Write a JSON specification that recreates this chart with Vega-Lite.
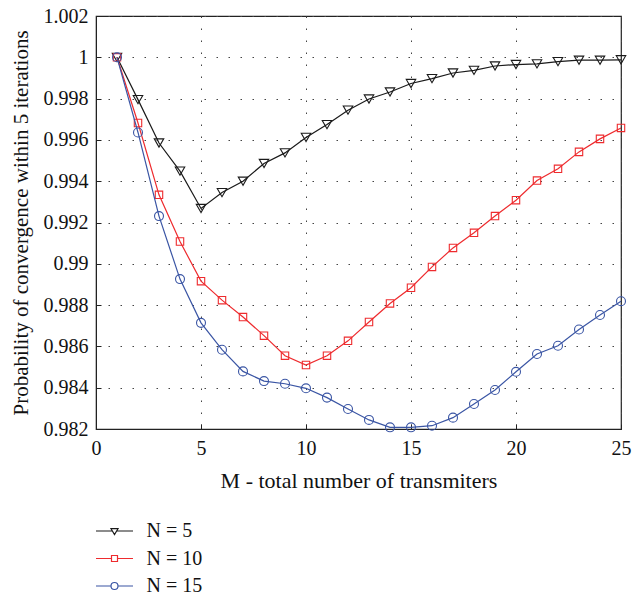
{
  "$schema": "https://vega.github.io/schema/vega-lite/v6.json",
  "width": 525,
  "height": 413,
  "autosize": {"type": "none"},
  "padding": {"left": 96, "top": 16, "right": 11, "bottom": 166},
  "background": "white",
  "config": {
    "font": "Liberation Serif",
    "view": {"stroke": "#222", "strokeWidth": 1.2},
    "axis": {
      "labelFont": "Liberation Serif",
      "titleFont": "Liberation Serif",
      "labelFontSize": 20,
      "titleFontSize": 21,
      "titleFontWeight": "normal",
      "labelColor": "#111",
      "titleColor": "#111",
      "domainColor": "#222",
      "tickColor": "#222",
      "gridColor": "#444",
      "gridDash": [1.5, 10.5],
      "gridWidth": 1
    },
    "legend": {
      "labelFont": "Liberation Serif",
      "labelFontSize": 20,
      "labelColor": "#111"
    }
  },
  "data": {
    "values": [
      {"M": 1, "N": "N = 5", "P": 1.0},
      {"M": 2, "N": "N = 5", "P": 0.99795},
      {"M": 3, "N": "N = 5", "P": 0.99585},
      {"M": 4, "N": "N = 5", "P": 0.99449},
      {"M": 5, "N": "N = 5", "P": 0.99268},
      {"M": 6, "N": "N = 5", "P": 0.99345},
      {"M": 7, "N": "N = 5", "P": 0.9940},
      {"M": 8, "N": "N = 5", "P": 0.99486},
      {"M": 9, "N": "N = 5", "P": 0.99537},
      {"M": 10, "N": "N = 5", "P": 0.99612},
      {"M": 11, "N": "N = 5", "P": 0.99674},
      {"M": 12, "N": "N = 5", "P": 0.99744},
      {"M": 13, "N": "N = 5", "P": 0.99798},
      {"M": 14, "N": "N = 5", "P": 0.99832},
      {"M": 15, "N": "N = 5", "P": 0.99873},
      {"M": 16, "N": "N = 5", "P": 0.99897},
      {"M": 17, "N": "N = 5", "P": 0.99924},
      {"M": 18, "N": "N = 5", "P": 0.99937},
      {"M": 19, "N": "N = 5", "P": 0.99958},
      {"M": 20, "N": "N = 5", "P": 0.99965},
      {"M": 21, "N": "N = 5", "P": 0.99968},
      {"M": 22, "N": "N = 5", "P": 0.99979},
      {"M": 23, "N": "N = 5", "P": 0.99986},
      {"M": 24, "N": "N = 5", "P": 0.99986},
      {"M": 25, "N": "N = 5", "P": 0.99988},
      {"M": 1, "N": "N = 10", "P": 1.0},
      {"M": 2, "N": "N = 10", "P": 0.99682},
      {"M": 3, "N": "N = 10", "P": 0.99334},
      {"M": 4, "N": "N = 10", "P": 0.99108},
      {"M": 5, "N": "N = 10", "P": 0.98916},
      {"M": 6, "N": "N = 10", "P": 0.98824},
      {"M": 7, "N": "N = 10", "P": 0.98742},
      {"M": 8, "N": "N = 10", "P": 0.98652},
      {"M": 9, "N": "N = 10", "P": 0.98555},
      {"M": 10, "N": "N = 10", "P": 0.9851},
      {"M": 11, "N": "N = 10", "P": 0.98555},
      {"M": 12, "N": "N = 10", "P": 0.98627},
      {"M": 13, "N": "N = 10", "P": 0.98718},
      {"M": 14, "N": "N = 10", "P": 0.98808},
      {"M": 15, "N": "N = 10", "P": 0.98884},
      {"M": 16, "N": "N = 10", "P": 0.98985},
      {"M": 17, "N": "N = 10", "P": 0.99077},
      {"M": 18, "N": "N = 10", "P": 0.9915},
      {"M": 19, "N": "N = 10", "P": 0.99231},
      {"M": 20, "N": "N = 10", "P": 0.99308},
      {"M": 21, "N": "N = 10", "P": 0.99403},
      {"M": 22, "N": "N = 10", "P": 0.9946},
      {"M": 23, "N": "N = 10", "P": 0.99542},
      {"M": 24, "N": "N = 10", "P": 0.99605},
      {"M": 25, "N": "N = 10", "P": 0.99658},
      {"M": 1, "N": "N = 15", "P": 1.0},
      {"M": 2, "N": "N = 15", "P": 0.99636},
      {"M": 3, "N": "N = 15", "P": 0.99231},
      {"M": 4, "N": "N = 15", "P": 0.98926},
      {"M": 5, "N": "N = 15", "P": 0.98714},
      {"M": 6, "N": "N = 15", "P": 0.98584},
      {"M": 7, "N": "N = 15", "P": 0.98479},
      {"M": 8, "N": "N = 15", "P": 0.98432},
      {"M": 9, "N": "N = 15", "P": 0.98419},
      {"M": 10, "N": "N = 15", "P": 0.98397},
      {"M": 11, "N": "N = 15", "P": 0.98352},
      {"M": 12, "N": "N = 15", "P": 0.98297},
      {"M": 13, "N": "N = 15", "P": 0.98244},
      {"M": 14, "N": "N = 15", "P": 0.98208},
      {"M": 15, "N": "N = 15", "P": 0.98208},
      {"M": 16, "N": "N = 15", "P": 0.98216},
      {"M": 17, "N": "N = 15", "P": 0.98255},
      {"M": 18, "N": "N = 15", "P": 0.98321},
      {"M": 19, "N": "N = 15", "P": 0.98389},
      {"M": 20, "N": "N = 15", "P": 0.98477},
      {"M": 21, "N": "N = 15", "P": 0.98563},
      {"M": 22, "N": "N = 15", "P": 0.98603},
      {"M": 23, "N": "N = 15", "P": 0.98682},
      {"M": 24, "N": "N = 15", "P": 0.98752},
      {"M": 25, "N": "N = 15", "P": 0.98819}
    ]
  },
  "encoding": {
    "x": {
      "field": "M", "type": "quantitative",
      "scale": {"domain": [0, 25], "nice": false},
      "axis": {
        "values": [0, 5, 10, 15, 20, 25],
        "title": "M - total number of transmiters",
        "titleFontSize": 22,
        "tickSize": -5,
        "labelPadding": 14,
        "titlePadding": 12,
        "labelFlush": false
      }
    },
    "y": {
      "field": "P", "type": "quantitative",
      "scale": {"domain": [0.982, 1.002], "nice": false, "zero": false},
      "axis": {
        "values": [0.982, 0.984, 0.986, 0.988, 0.99, 0.992, 0.994, 0.996, 0.998, 1, 1.002],
        "format": "~g",
        "title": "Probability of convergence within 5 iterations",
        "tickSize": -5,
        "labelPadding": 13,
        "titlePadding": 12,
        "labelFlush": false
      }
    }
  },
  "layer": [
    {
      "transform": [{"filter": "datum.N == 'N = 5'"}],
      "layer": [
        {"mark": {"type": "line", "strokeWidth": 1.2, "color": "#1a1a1a"}},
        {"mark": {"type": "point", "shape": "triangle-down", "filled": false, "size": 90, "strokeWidth": 1.1, "opacity": 1, "color": "#1a1a1a"}}
      ]
    },
    {
      "transform": [{"filter": "datum.N == 'N = 10'"}],
      "layer": [
        {"mark": {"type": "line", "strokeWidth": 1.2, "color": "#ee2b2e"}},
        {"mark": {"type": "point", "shape": "square", "filled": false, "size": 55, "strokeWidth": 1.1, "opacity": 1, "color": "#ee2b2e"}}
      ]
    },
    {
      "transform": [{"filter": "datum.N == 'N = 15'"}],
      "layer": [
        {"mark": {"type": "line", "strokeWidth": 1.2, "color": "#3a55a4"}},
        {"mark": {"type": "point", "shape": "circle", "filled": false, "size": 80, "strokeWidth": 1.1, "opacity": 1, "color": "#3a55a4"}}
      ]
    },
    {
      "transform": [{"filter": "datum.M == 1"}],
      "mark": {"type": "point", "filled": false, "strokeWidth": 1.2, "opacity": 0},
      "encoding": {
        "color": {
          "field": "N", "type": "nominal",
          "scale": {"domain": ["N = 5", "N = 10", "N = 15"], "range": ["#1a1a1a", "#ee2b2e", "#3a55a4"]},
          "legend": {
            "title": null,
            "orient": "none",
            "legendX": 7.5,
            "legendY": 504,
            "symbolSize": 400,
            "symbolStrokeWidth": 1.2,
            "symbolOpacity": 1,
            "labelOffset": 21,
            "rowPadding": 6.5
          }
        },
        "shape": {
          "field": "N", "type": "nominal",
          "scale": {
            "domain": ["N = 5", "N = 10", "N = 15"],
            "range": [
              "M-1.85,0H-0.21M0.21,0H1.85M-0.35,-0.23L0.35,-0.23L0,0.35Z",
              "M-1.85,0H-0.3M0.3,0H1.85M-0.3,-0.3H0.3V0.3H-0.3Z",
              "M-1.85,0H-0.35M0.35,0H1.85M-0.35,0A0.35,0.35,0,1,0,0.35,0A0.35,0.35,0,1,0,-0.35,0Z"
            ]
          },
          "legend": {"title": null}
        }
      }
    }
  ]
}
